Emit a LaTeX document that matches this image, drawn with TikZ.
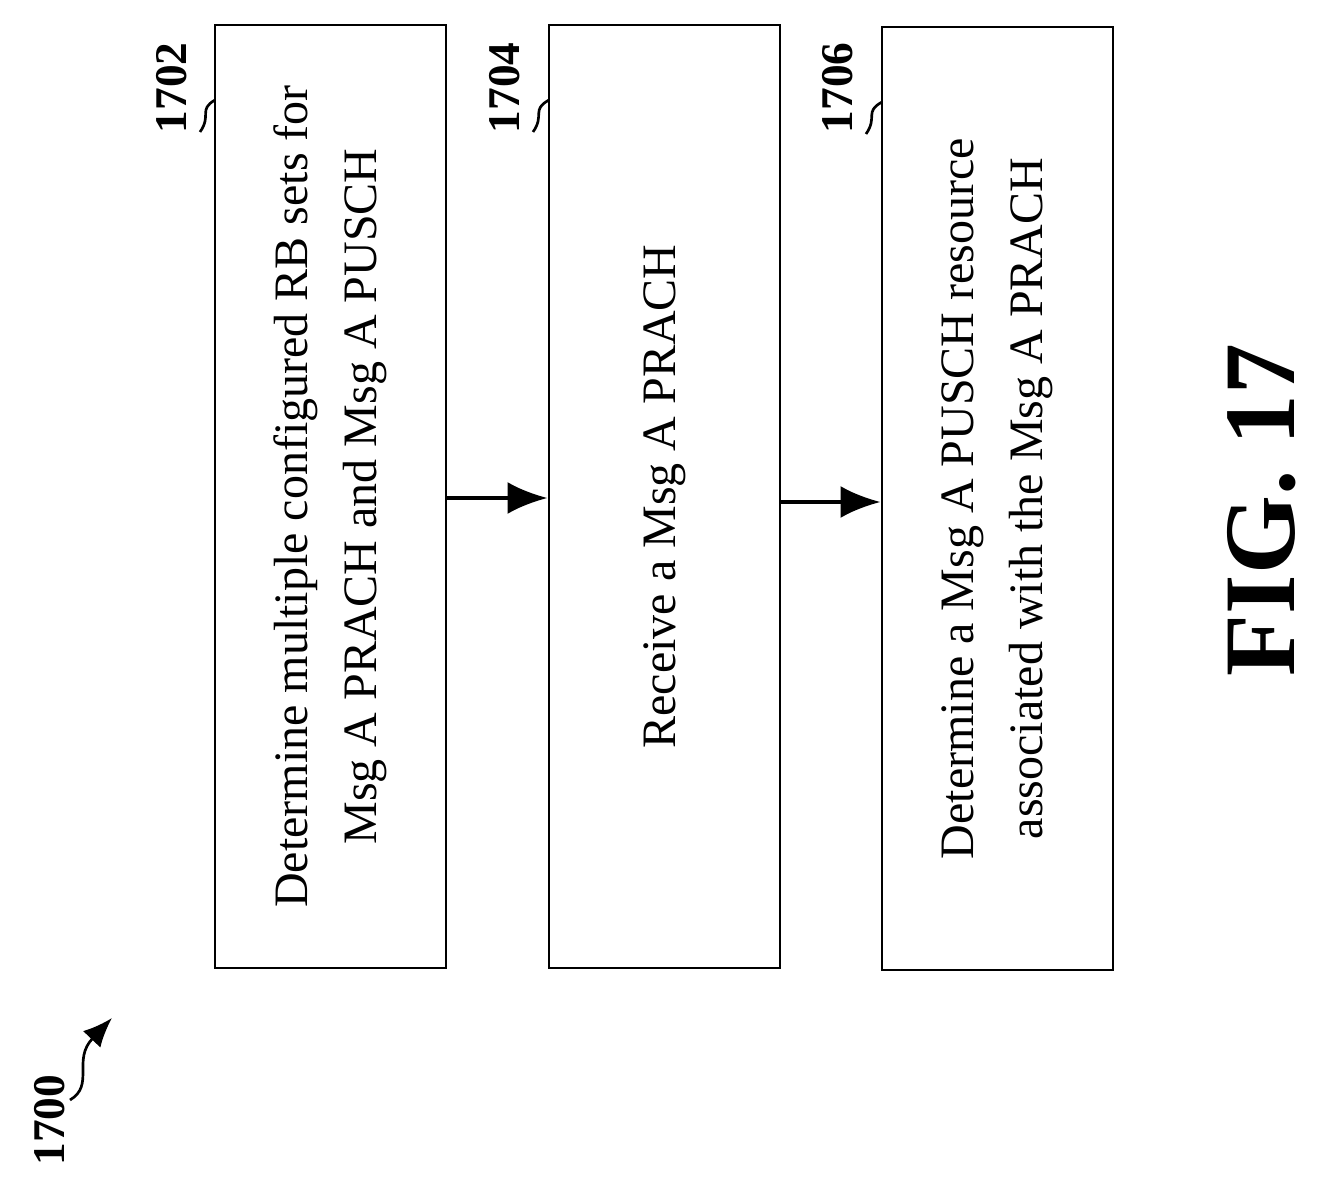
\documentclass[tikz,border=0pt]{standalone}
\usepackage{fontspec}
\setmainfont{Liberation Serif}
\usetikzlibrary{positioning,arrows.meta}
\begin{document}
\begin{tikzpicture}[x=0.75pt,y=-0.75pt,-latex,semithick,
blk/.style ={draw,line width=2.2pt,minimum width=231*0.75pt,minimum height=943*0.75pt,
  inner sep=0pt},
txt/.style ={rotate=90,align=center,font=\fontsize{36}{52}\selectfont},
ref/.style ={rotate=90,font=\bfseries\fontsize{34}{38}\selectfont}
]
\useasboundingbox (0,0) rectangle (1320,1201);
\node[blk] (s1) at (330.5,496.5) {};
\node[blk] (s2) at (664.5,496.5) {};
\node[blk] (s3) at (997.5,498.5) {};
\node[txt] (t1) at (s1.center) {Determine multiple configured RB sets for\\Msg A PRACH and Msg A PUSCH};
\node[txt] (t2) at (s2.center) {Receive a Msg A PRACH};
\node[txt] (t3) at (s3.center) {Determine a Msg A PUSCH resource\\associated with the Msg A PRACH};
\draw[line width=3pt,-{Latex[length=30pt,width=24pt]}] (s1.east |- 0,498) -- (s2.west |- 0,498);
\draw[line width=3pt,-{Latex[length=30pt,width=24pt]}] (s2.east |- 0,502) -- (s3.west |- 0,502);
% step labels
\node[ref] (l1) at (172,88) {1702};
\node[ref] (l2) at (505,88) {1704};
\node[ref] (l3) at (838,88) {1706};
\draw[-,line width=2pt] (200,132) .. controls (212,115) and (198,110) .. (215,100);
\draw[-,line width=2pt] (533,132) .. controls (545,115) and (531,110) .. (549,100);
\draw[-,line width=2pt] (866,134) .. controls (878,117) and (864,112) .. (882,102);
% figure label
\node[ref] (fig) at (50,1120) {1700};
\coordinate (tip) at (112,1018);
\draw[line width=2pt,-{Latex[length=22pt,width=18pt]}] (70,1100) .. controls (95,1085) and (72,1060) .. (tip);
\node[rotate=90,font=\bfseries\fontsize{76}{80}\selectfont] (title) at (1262,510) {FIG. 17};
\end{tikzpicture}
\end{document}
